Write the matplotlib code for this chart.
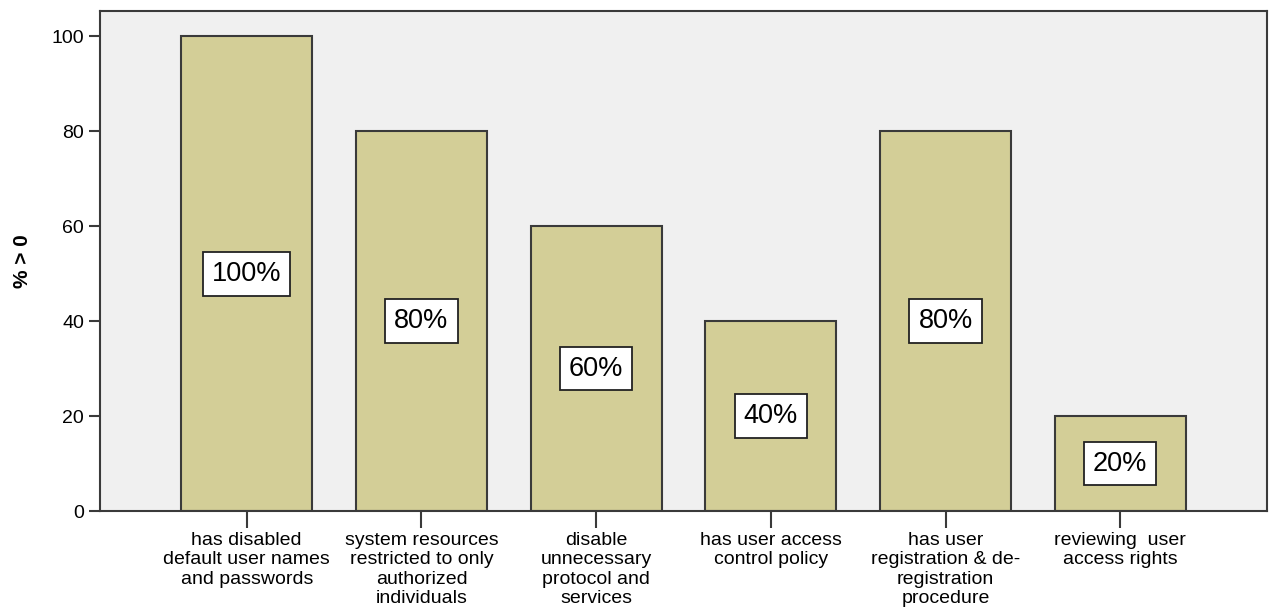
import matplotlib.pyplot as plt
import numpy as np

plt.rcParams['font.family'] = ['Liberation Sans', 'DejaVu Sans']

# Share of respondents (%) for each access control item
categories = [
    'has disabled\ndefault user names\nand passwords',
    'system resources\nrestricted to only\nauthorized\nindividuals',
    'disable\nunnecessary\nprotocol and\nservices',
    'has user access\ncontrol policy',
    'has user\nregistration & de-\nregistration\nprocedure',
    'reviewing  user\naccess rights',
]
percent = [100, 80, 60, 40, 80, 20]
y_ticks = [0, 20, 40, 60, 80, 100]

bar_color = '#d3ce97'
edge_color = '#3a3a3a'

fig = plt.figure(figsize=(12.69, 6.12), dpi=100)
ax = fig.add_axes([100 / 1269, 1 - 511 / 612, 1167 / 1269, 500 / 612])
ax.set_facecolor('#f0f0f0')

x = np.arange(len(categories))
ax.bar(x, percent, width=0.75, color=bar_color, edgecolor=edge_color, linewidth=1.5, zorder=2)

# value boxes in the middle of each bar
for xi, v in zip(x, percent):
    ax.text(xi, v / 2, f'{v}%', ha='center', va='center', fontsize=19.5, zorder=3,
            bbox=dict(boxstyle='square,pad=0.33', facecolor='white', edgecolor='#222222', linewidth=1.3))

ax.set_xlim(-0.84, 5.84)
ax.set_ylim(0, 105.3)
ax.set_yticks(y_ticks)
ax.set_xticks(x)
ax.set_xticklabels(categories, fontsize=14, linespacing=1.18, va='top')
ax.tick_params(axis='y', labelsize=14, length=8, width=1.5, color=edge_color)
ax.tick_params(axis='x', length=12, width=1.5, color=edge_color, pad=3)

for s in ax.spines.values():
    s.set_color(edge_color)
    s.set_linewidth(1.5)

ax.set_ylabel('% > 0', fontsize=15, fontweight='bold', labelpad=14)

fig.savefig('out.png', dpi=100)
